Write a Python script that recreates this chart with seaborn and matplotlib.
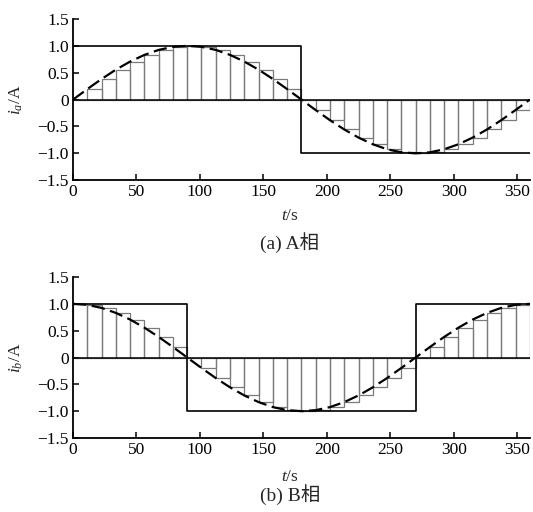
import matplotlib
matplotlib.use("Agg")
import matplotlib.pyplot as plt
import seaborn as sns
import numpy as np

# ---------------- data ----------------
# sample instants (s) every 11.25
t_samples = [0, 11.25, 22.5, 33.75, 45, 56.25, 67.5, 78.75, 90, 101.25, 112.5,
             123.75, 135, 146.25, 157.5, 168.75, 180, 191.25, 202.5, 213.75, 225,
             236.25, 247.5, 258.75, 270, 281.25, 292.5, 303.75, 315, 326.25,
             337.5, 348.75, 360]
# phase A current samples (A)
ia_samples = [0, 0.195, 0.383, 0.556, 0.707, 0.831, 0.924, 0.981, 1.0, 0.981,
              0.924, 0.831, 0.707, 0.556, 0.383, 0.195, 0, -0.195, -0.383,
              -0.556, -0.707, -0.831, -0.924, -0.981, -1.0, -0.981, -0.924,
              -0.831, -0.707, -0.556, -0.383, -0.195, 0]
# phase B current samples (A)
ib_samples = [1.0, 0.981, 0.924, 0.831, 0.707, 0.556, 0.383, 0.195, 0, -0.195,
              -0.383, -0.556, -0.707, -0.831, -0.924, -0.981, -1.0, -0.981,
              -0.924, -0.831, -0.707, -0.556, -0.383, -0.195, 0, 0.195, 0.383,
              0.556, 0.707, 0.831, 0.924, 0.981, 1.0]
# square-wave (six-step) currents
sq_a_t = [0, 180, 360]
sq_a_v = [1, -1, -1]
sq_b_t = [0, 90, 270, 360]
sq_b_v = [1, -1, 1, 1]

x_ticks = [0, 50, 100, 150, 200, 250, 300, 350]
y_ticks = [-1.5, -1.0, -0.5, 0, 0.5, 1.0, 1.5]
y_tick_labels = ["\u22121.5", "\u22121.0", "\u22120.5", "0", "0.5", "1.0", "1.5"]
captions = ["(a) A相", "(b) B相"]
ylabels = ["$i_a$/A", "$i_b$/A"]

# ---------------- style ----------------
sns.set_style("ticks")
plt.rcParams["font.family"] = ["Liberation Serif", "Noto Sans CJK SC"]
plt.rcParams["mathtext.fontset"] = "custom"
plt.rcParams["mathtext.rm"] = "Liberation Serif"
plt.rcParams["mathtext.it"] = "Liberation Serif:italic"

fig = plt.figure(figsize=(5.33, 5.12), dpi=100)
axes = [fig.add_axes([0.137, 0.648, 0.857, 0.315]),
        fig.add_axes([0.137, 0.1445, 0.857, 0.3145])]

panels = [(ia_samples, sq_a_t, sq_a_v), (ib_samples, sq_b_t, sq_b_v)]
xlabel_y = [-0.175, -0.195]
caption_y = [-0.385, -0.354]
for i, (ax, (samples, sqt, sqv)) in enumerate(zip(axes, panels)):
    # sample-and-hold bars
    widths = np.diff(t_samples)
    ax.bar(t_samples[:-1], samples[:-1], width=widths, align="edge",
           fill=False, edgecolor="#7a7a7a", linewidth=0.9, zorder=2)
    # zero line
    ax.axhline(0, color="black", lw=1.1, zorder=3)
    # square wave
    sns.lineplot(x=sqt, y=sqv, drawstyle="steps-post", color="black",
                 lw=1.2, ax=ax, zorder=4)
    # ideal sine current (dashed)
    sns.lineplot(x=t_samples, y=samples, color="black", lw=1.6, ax=ax,
                 zorder=5, linestyle=(0, (6, 2.5)))
    ax.set_xlim(0, 360)
    ax.set_ylim(-1.5, 1.5)
    ax.set_xticks(x_ticks)
    ax.set_yticks(y_ticks)
    ax.set_yticklabels(y_tick_labels)
    ax.tick_params(direction="in", length=4, width=1.1, labelsize=12.5,
                   pad=3, colors="black")
    for s in ["top", "right"]:
        ax.spines[s].set_visible(False)
    for s in ["left", "bottom"]:
        ax.spines[s].set_linewidth(1.3)
        ax.spines[s].set_color("black")
    ax.set_xlabel("$t$/s", fontsize=12.5)
    ax.xaxis.set_label_coords(0.475, xlabel_y[i])
    ax.set_ylabel(ylabels[i], fontsize=12.5)
    ax.yaxis.set_label_coords(-0.105, 0.5)
    ax.text(0.475, caption_y[i], captions[i], transform=ax.transAxes,
            ha="center", va="center", fontsize=14)

fig.savefig("out.png", dpi=100)
